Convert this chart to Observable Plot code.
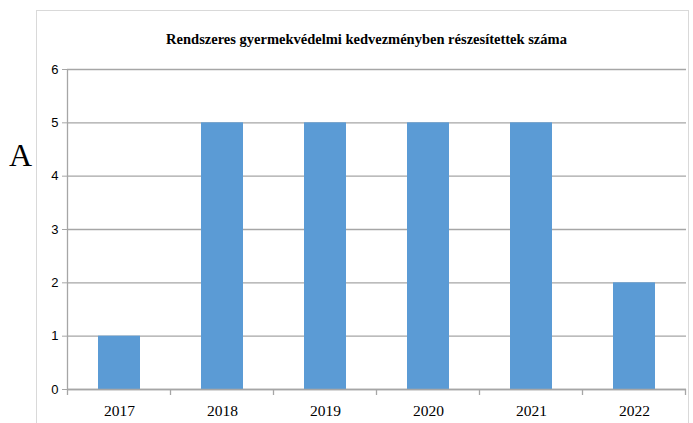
<!DOCTYPE html>
<html><head><meta charset="utf-8">
<script src="https://cdn.jsdelivr.net/npm/d3@7"></script>
<script src="https://cdn.jsdelivr.net/npm/@observablehq/plot@0.6"></script>
<style>
body{margin:0;background:#fff;}
#wrap{position:relative;width:693px;height:423px;overflow:hidden;}
#frame{position:absolute;left:36px;top:10px;width:653px;height:440px;border:1px solid #d9d9d9;box-sizing:border-box;}
#title{position:absolute;left:40px;width:653px;top:31px;text-align:center;font-weight:bold;font-size:14.5px;font-family:"Liberation Serif","Times New Roman",serif;color:#000;}
#letterA{position:absolute;left:9px;top:137px;font-size:32px;font-family:"Liberation Serif","Times New Roman",serif;color:#000;}
svg{position:absolute;left:0;top:0;}
</style></head>
<body><div id="wrap"><div id="frame"></div><div id="title"></div><div id="letterA">A</div></div>
<script>
const years = ["2017","2018","2019","2020","2021","2022"];
const counts = [1,5,5,5,5,2];
const yTicks = [0,1,2,3,4,5,6];
const titleText = "Rendszeres gyermekvédelmi kedvezményben részesítettek száma";
const sideLetter = "A";

document.getElementById("title").textContent = titleText;
document.getElementById("letterA").textContent = sideLetter;

const data = years.map((y,i)=>({year:y, value:counts[i]}));
const grid = "#a6a6a6";
const chart = Plot.plot({
  width: 693, height: 423,
  marginLeft: 67, marginRight: 7, marginTop: 69, marginBottom: 34,
  style: {background: "transparent", overflow: "visible"},
  x: {domain: years, paddingInner: 0.59, paddingOuter: 0.295, label: null},
  y: {domain: [0,6], label: null},
  marks: [
    Plot.gridY(yTicks, {stroke: grid, strokeOpacity: 1, strokeWidth: 1.3}),
    Plot.barY(data, {x: "year", y: "value", fill: "#5b9bd5"}),
    Plot.axisY(yTicks, {tickSize: 5, stroke: grid, strokeOpacity: 1, tickPadding: 4, tickFormat: d3.format("d"), fontSize: 13, fontFamily: "Liberation Sans, Arial, sans-serif", fill: "#000", label: null}),
    Plot.axisX({tickSize: 0, tickPadding: 15, fontSize: 15.5, fontFamily: "Liberation Serif, Times New Roman, serif", fill: "#000", label: null}),
    Plot.ruleY([0], {stroke: grid, strokeWidth: 1.3})
  ]
});
document.getElementById("wrap").appendChild(chart);

// axis line and category-boundary ticks using Plot's scales
const xs = chart.scale("x"), ys = chart.scale("y");
const svg = d3.select(chart);
const y0 = ys.apply(0), y6 = ys.apply(6);
const step = xs.step, bw = xs.bandwidth;
const xStart = xs.apply(years[0]) - (step - bw)/2;
const g = svg.append("g").attr("stroke", grid).attr("stroke-width", 1.3);
g.append("line").attr("x1", xStart).attr("x2", xStart).attr("y1", y6).attr("y2", y0 + 6);
years.forEach(y => {
  const xb = xs.apply(y) + bw + (step - bw)/2;
  g.append("line").attr("x1", xb).attr("x2", xb).attr("y1", y0).attr("y2", y0 + 6);
});
</script></body></html>
